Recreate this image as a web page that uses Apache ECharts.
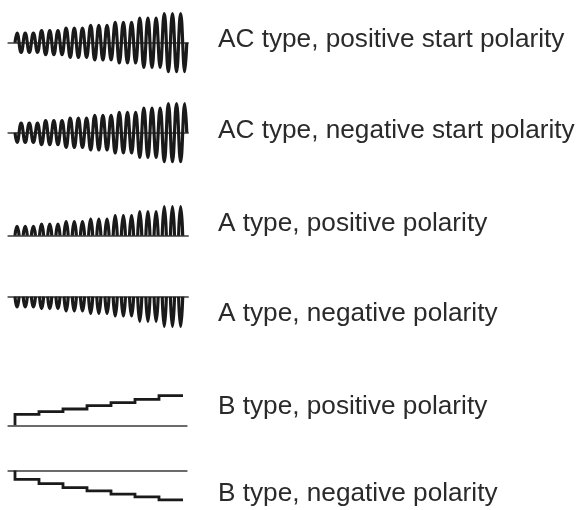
<!DOCTYPE html>
<html>
<head>
<meta charset="utf-8">
<script src="https://cdn.jsdelivr.net/npm/echarts@6/dist/echarts.min.js"></script>
<style>html,body{margin:0;padding:0;background:#fff}#c{width:582px;height:510px}</style>
</head>
<body>
<div id="c"></div>
<script>
// ---- data ----
const labels = [
  'AC type, positive start polarity',
  'AC type, negative start polarity',
  'A type, positive polarity',
  'A type, negative polarity',
  'B type, positive polarity',
  'B type, negative polarity'
];
const cyclesPerStep = 3;                       // cycles at each amplitude level
const acPositiveAmp = [9.7, 12, 14.7, 17.3, 20.3, 24.7, 29];
const acNegativeAmp = [9.7, 12, 14.7, 17.3, 20.3, 24.7, 29];
const aPositiveAmp  = [9.3, 11.7, 14, 16.7, 20, 24, 29];
const aNegativeAmp  = [10.3, 12, 14.3, 16.7, 19.3, 24.7, 29.7];
const bPositiveLevel = [11, 13.7, 16.3, 19.7, 22.7, 26, 29.7];
const bNegativeLevel = [9, 13.3, 17.3, 20.7, 24, 26.7, 29.7];

// ---- build series data from the arrays ----
function acData(amps, sign) {
  const d = [[0, 0]];
  amps.forEach((a, s) => {
    for (let k = 0; k < cyclesPerStep; k++) {
      const c = s * cyclesPerStep + k;
      d.push([c + 0.25, sign * a], [c + 0.75, -sign * a]);
    }
  });
  d.push([amps.length * cyclesPerStep, 0]);
  return d;
}
function pulseData(amps, sign) {
  const d = [];
  amps.forEach((a, s) => {
    for (let k = 0; k < cyclesPerStep; k++) {
      const c = s * cyclesPerStep + k;
      d.push([c, 0], [c + 0.25, sign * a], [c + 0.5, 0], [c + 0.75, null]);
    }
  });
  return d;
}
function stepData(levels, sign) {
  const d = [[0, 0]];
  levels.forEach((l, i) => d.push([i + 1, sign * l]));
  return d;
}

// ---- layout ----
const baselines = [42.7, 132.7, 235.7, 296.7, 425.3, 471];
const textBase = [46.7, 137.3, 231, 320.7, 413.5, 500.7];
const half = 40;
const waveColor = '#1a1a1a';
const baseColor = '#6b6b6b';

const grids = [], xAxes = [], yAxes = [], series = [];
const pxPerCycle = 8.18, startPx = 15, baseL = 8.3, baseR = 188;
const pxPerStep = 24, baseRB = 186.7;

const rows = [
  {data: acData(acPositiveAmp, 1), kind: 'ac'},
  {data: acData(acNegativeAmp, -1), kind: 'ac'},
  {data: pulseData(aPositiveAmp, 1), kind: 'pulse'},
  {data: pulseData(aNegativeAmp, -1), kind: 'pulse'},
  {data: stepData(bPositiveLevel, 1), kind: 'step'},
  {data: stepData(bNegativeLevel, -1), kind: 'step'}
];

rows.forEach((r, i) => {
  const unit = r.kind === 'step' ? pxPerStep : pxPerCycle;
  const right = r.kind === 'step' ? baseRB : baseR;
  grids.push({left: baseL, top: baselines[i] - half, width: right - baseL, height: 2 * half, containLabel: false});
  xAxes.push({
    type: 'value', gridIndex: i,
    min: (baseL - startPx) / unit, max: (right - startPx) / unit,
    axisLine: {show: true, onZero: true, lineStyle: {color: baseColor, width: 2}},
    axisTick: {show: false}, axisLabel: {show: false}, splitLine: {show: false},
    z: 3
  });
  yAxes.push({
    type: 'value', gridIndex: i, min: -half, max: half, show: false,
    splitLine: {show: false}
  });
  series.push({
    type: 'line', xAxisIndex: i, yAxisIndex: i,
    data: r.data, showSymbol: false, symbol: 'none', clip: false,
    smooth: r.kind === 'ac' ? 0.45 : (r.kind === 'pulse' ? 0.6 : false),
    step: r.kind === 'step' ? 'start' : false,
    connectNulls: false,
    lineStyle: {color: waveColor, width: r.kind === 'step' ? 2.8 : 3.2, join: 'miter'},
    animation: false, silent: true
  });
});

const graphic = labels.map((t, i) => ({
  type: 'text', left: 218, top: textBase[i] - 20,
  style: {text: t, font: '26.2px "Liberation Sans", Arial, sans-serif', fill: '#2a2a2a'}
}));

const chart = echarts.init(document.getElementById('c'), null, {renderer: 'canvas'});
chart.setOption({
  animation: false,
  backgroundColor: '#ffffff',
  grid: grids, xAxis: xAxes, yAxis: yAxes, series: series,
  graphic: graphic
});
</script>
</body>
</html>
